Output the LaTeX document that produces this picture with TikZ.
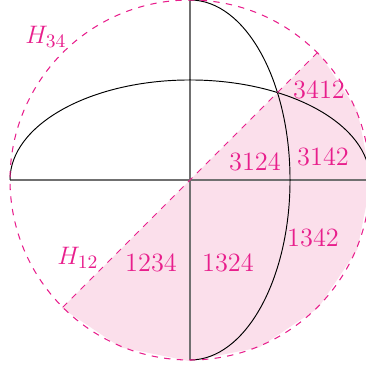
\documentclass[tikz,border=0pt]{standalone}
\usepackage{xcolor}
\definecolor{hpink}{RGB}{232,30,140}
\definecolor{hfill}{RGB}{251,223,235}
\definecolor{axisgray}{RGB}{112,112,112}
\begin{document}
\begin{tikzpicture}[
  hyper/.style={draw=hpink,dashed,line width=0.5pt},
  axisline/.style={draw=axisgray,line width=0.7pt},
  greatcirc/.style={draw=black,line width=0.45pt},
  lab/.style={text=hpink,font=\fontsize{12.5}{15}\selectfont,inner sep=0pt}
]
\useasboundingbox (-3.1667,-3.1667) rectangle (2.9333,3);
% shaded half disk (polygonal)
\fill[hfill] (-135:3.02) -- (-112.5:3.02) -- (-90:3.02) -- (-67.5:3.02) -- (-45:3.02)
  -- (-22.5:3.02) -- (0:3.02) -- (22.5:3.02) -- (45:3.02) -- cycle;
% axes
\coordinate (O) at (0,0);
\coordinate (L) at (-3,0);
\coordinate (R) at (3,0);
\coordinate (T) at (0,3);
\coordinate (B) at (0,-3);
\draw[axisline] (L) -- (R);
\draw[axisline] (T) -- (B);
% great circles
\draw[greatcirc] (L) arc[start angle=180,end angle=0,x radius=3,y radius=1.667];
\draw[greatcirc] (T) arc[start angle=90,end angle=-90,x radius=1.667,y radius=3];
% hyperplanes
\coordinate (P1) at (-135:3);
\coordinate (P2) at (45:3);
\draw[hyper] (O) circle[radius=3];
\draw[hyper] (P1) -- (P2);
% labels
\node[lab] (h34) at (-2.4,2.383) {$H_{34}$};
\node[lab] (h12) at (-1.867,-1.3) {$H_{12}$};
\node[lab] (a1234) at (-0.65,-1.383) {1234};
\node[lab] (a1324) at (0.633,-1.383) {1324};
\node[lab] (a1342) at (2.05,-0.967) {1342};
\node[lab] (a3124) at (1.083,0.3) {3124};
\node[lab] (a3142) at (2.217,0.383) {3142};
\node[lab] (a3412) at (2.15,1.5) {3412};
\end{tikzpicture}
\end{document}
